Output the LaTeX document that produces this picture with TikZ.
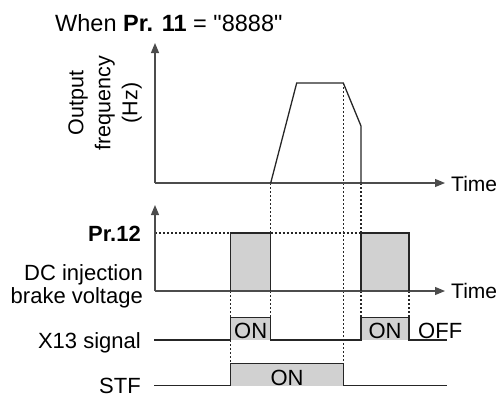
\documentclass[tikz,border=0pt]{standalone}
\usepackage{fontspec}
\setmainfont{Liberation Sans}[Ligatures=TeXOff]
\usetikzlibrary{arrows.meta}
\begin{document}
\begin{tikzpicture}[x=1pt,y=-1pt,
  lbl/.style={font=\fontsize{22}{23}\selectfont, inner sep=0pt},
  axis/.style={line width=1.1pt, draw=black!70, -{Triangle[length=10pt,width=8pt]}},
  sig/.style={line width=1.3pt, draw=black!85},
  dots/.style={line width=1.1pt, draw=black!85, dash pattern=on 2pt off 2pt},
  graybox/.style={fill=black!18, draw=none}
]
\useasboundingbox (0,0) rectangle (499,399);
% coordinates
\coordinate (o1) at (155,183);
\coordinate (y1) at (155,43);
\coordinate (x1) at (445,183);
\coordinate (o2) at (155,291);
\coordinate (y2) at (155,205);
\coordinate (x2) at (445,291);
\coordinate (fa) at (270.7,183);
\coordinate (fb) at (296.7,83);
\coordinate (fc) at (343.3,83);
\coordinate (fd) at (361,126);
\coordinate (fe) at (361,183);
% gray fills
\fill[graybox] (230.7,233) rectangle (270.7,291);
\fill[graybox] (361,233) rectangle (409,291);
\fill[graybox] (230.7,317.3) rectangle (270.7,340);
\fill[graybox] (361,317.3) rectangle (409,340);
\fill[graybox] (230.7,363.3) rectangle (343.3,385.7);
% dotted guides
\draw[dots] (155,233) -- (230.7,233);
\draw[dots] (270.7,233) -- (361,233);
\draw[dots] (fa) -- (270.7,233);
\draw[dots] (270.7,291) -- (270.7,317.3);
\draw[dots] (230.7,291) -- (230.7,317.3);
\draw[dots] (230.7,340) -- (230.7,363.3);
\draw[dots] (fc) -- (343.3,363.3);
\draw[dots] (fe) -- (361,233);
\draw[dots] (361,291) -- (361,317.3);
\draw[dots] (409,291) -- (409,317.3);
% axes
\draw[axis] (o1) -- (y1);
\draw[axis] (o1) -- (x1);
\draw[axis] (o2) -- (y2);
\draw[axis] (o2) -- (x2);
% frequency curve
\draw[sig, line join=miter] (fa) -- (fb) -- (fc) -- (fd) -- (fe);
% brake voltage pulses
\draw[sig] (230.7,291) -- (230.7,233) -- (270.7,233) -- (270.7,291);
\draw[sig] (361,291) -- (361,233) -- (409,233) -- (409,291);
% X13 signal
\draw[sig] (154,340) -- (230.7,340) -- (230.7,317.3) -- (270.7,317.3) -- (270.7,340) -- (361,340) -- (361,317.3) -- (409,317.3) -- (409,340) -- (446.7,340);
% STF
\draw[sig] (154,385.7) -- (230.7,385.7) -- (230.7,363.3) -- (343.3,363.3) -- (343.3,385.7) -- (446.7,385.7);
% labels
\node[lbl, anchor=base west, font=\fontsize{23.5}{25}\selectfont] (title) at (55,31) {When \textbf{Pr. 11} = "8888"};
\node[lbl, rotate=90, align=center, font=\fontsize{21.5}{27}\selectfont] (ylab) at (105,103) {Output\\frequency\\(Hz)};
\node[lbl, anchor=base west, font=\fontsize{21}{22}\selectfont] (time1) at (451,191) {Time};
\node[lbl, anchor=base west, font=\fontsize{21}{22}\selectfont] (time2) at (451,298) {Time};
\node[lbl, anchor=base east, font=\fontsize{22}{23}\selectfont\bfseries] (pr12) at (141,241) {Pr.12};
\node[lbl, anchor=north east, align=right] (dcb) at (143,264) {DC injection\\brake voltage};
\node[lbl, anchor=base east] (x13) at (141,348) {X13 signal};
\node[lbl, anchor=base east] (stf) at (141,393) {STF};
\node[lbl, anchor=base] (on1) at (250.7,338) {ON};
\node[lbl, anchor=base] (on2) at (385,338) {ON};
\node[lbl, anchor=base west] (off) at (418,338) {OFF};
\node[lbl, anchor=base] (on3) at (287,385) {ON};
\end{tikzpicture}
\end{document}
